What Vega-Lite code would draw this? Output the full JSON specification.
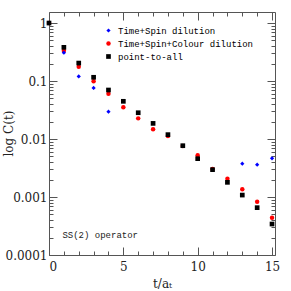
{
  "$schema": "https://vega.github.io/schema/vega-lite/v6.json",
  "width": 226,
  "height": 243,
  "autosize": {"type": "none"},
  "padding": {"left": 49, "top": 12, "right": 16, "bottom": 36},
  "background": "white",
  "config": {
    "view": {"stroke": null},
    "axis": {"grid": false, "domainColor": "#555", "tickColor": "#555", "labelFont": "DejaVu Serif", "labelFontSize": 12, "labelColor": "#222", "titleFont": "DejaVu Serif", "titleFontSize": 12, "titleFontWeight": "normal", "titleColor": "#222"}
  },
  "resolve": {"axis": {"x": "independent", "y": "independent"}},
  "layer": [
    {
      "data": {"values": [
        {"t": 0, "C": 1.0, "series": "Time+Spin+Colour dilution"},
        {"t": 1, "C": 0.333, "series": "Time+Spin+Colour dilution"},
        {"t": 2, "C": 0.177, "series": "Time+Spin+Colour dilution"},
        {"t": 3, "C": 0.0987, "series": "Time+Spin+Colour dilution"},
        {"t": 4, "C": 0.0605, "series": "Time+Spin+Colour dilution"},
        {"t": 5, "C": 0.0352, "series": "Time+Spin+Colour dilution"},
        {"t": 6, "C": 0.0227, "series": "Time+Spin+Colour dilution"},
        {"t": 7, "C": 0.0147, "series": "Time+Spin+Colour dilution"},
        {"t": 8, "C": 0.0113, "series": "Time+Spin+Colour dilution"},
        {"t": 9, "C": 0.0076, "series": "Time+Spin+Colour dilution"},
        {"t": 10, "C": 0.00523, "series": "Time+Spin+Colour dilution"},
        {"t": 11, "C": 0.00304, "series": "Time+Spin+Colour dilution"},
        {"t": 12, "C": 0.00207, "series": "Time+Spin+Colour dilution"},
        {"t": 13, "C": 0.00136, "series": "Time+Spin+Colour dilution"},
        {"t": 14, "C": 0.00083, "series": "Time+Spin+Colour dilution"},
        {"t": 15, "C": 0.00044, "series": "Time+Spin+Colour dilution"},
        {"t": 0, "C": 1.0, "series": "point-to-all"},
        {"t": 1, "C": 0.381, "series": "point-to-all"},
        {"t": 2, "C": 0.204, "series": "point-to-all"},
        {"t": 3, "C": 0.116, "series": "point-to-all"},
        {"t": 4, "C": 0.070, "series": "point-to-all"},
        {"t": 5, "C": 0.0447, "series": "point-to-all"},
        {"t": 6, "C": 0.0284, "series": "point-to-all"},
        {"t": 7, "C": 0.0186, "series": "point-to-all"},
        {"t": 8, "C": 0.0119, "series": "point-to-all"},
        {"t": 9, "C": 0.00767, "series": "point-to-all"},
        {"t": 10, "C": 0.00458, "series": "point-to-all"},
        {"t": 11, "C": 0.00296, "series": "point-to-all"},
        {"t": 12, "C": 0.00179, "series": "point-to-all"},
        {"t": 13, "C": 0.00108, "series": "point-to-all"},
        {"t": 14, "C": 0.000655, "series": "point-to-all"},
        {"t": 15, "C": 0.000342, "series": "point-to-all"},
        {"t": 1, "C": 0.308, "series": "Time+Spin dilution"},
        {"t": 2, "C": 0.120, "series": "Time+Spin dilution"},
        {"t": 3, "C": 0.0759, "series": "Time+Spin dilution"},
        {"t": 4, "C": 0.0296, "series": "Time+Spin dilution"},
        {"t": 13, "C": 0.00376, "series": "Time+Spin dilution"},
        {"t": 14, "C": 0.00361, "series": "Time+Spin dilution"},
        {"t": 15, "C": 0.00465, "series": "Time+Spin dilution"}
      ]},
      "mark": {"type": "point", "filled": true, "opacity": 1},
      "encoding": {
        "x": {"field": "t", "type": "quantitative", "scale": {"domain": [0, 15.2], "nice": false, "zero": false},
          "axis": {"orient": "bottom", "title": "t/aₜ", "values": [0,1,2,3,4,5,6,7,8,9,10,11,12,13,14,15],
            "tickSize": {"condition": {"test": "datum.value % 5 == 0", "value": -8}, "value": -4},
            "labelExpr": "datum.value % 5 == 0 ? datum.label : ''", "labelPadding": 14, "titlePadding": 6}},
        "xOffset": {"field": "series", "type": "nominal", "scale": {"type": "ordinal", "domain": ["Time+Spin dilution", "Time+Spin+Colour dilution", "point-to-all"], "range": [-1.7, 2.2, 0]}},
        "y": {"field": "C", "type": "quantitative", "scale": {"type": "log", "domain": [0.0001, 1.55], "nice": false},
          "axis": {"orient": "left", "title": "log C(t)", "format": "~g", "titleX": -41, "titleY": 121, "titleBaseline": "middle", "titleAlign": "center", "titleAngle": -90,
            "values": [0.0001,0.0002,0.0003,0.0004,0.0005,0.0006,0.0007,0.0008,0.0009,0.001,0.002,0.003,0.004,0.005,0.006,0.007,0.008,0.009,0.01,0.02,0.03,0.04,0.05,0.06,0.07,0.08,0.09,0.1,0.2,0.3,0.4,0.5,0.6,0.7,0.8,0.9,1],
            "tickSize": {"condition": {"test": "abs(log(datum.value)/LN10 - round(log(datum.value)/LN10)) < 0.000001", "value": -8}, "value": -4},
            "labelExpr": "abs(log(datum.value)/LN10 - round(log(datum.value)/LN10)) < 0.000001 ? datum.label : ''", "labelPadding": 10}},
        "color": {"field": "series", "type": "nominal", "scale": {"domain": ["Time+Spin dilution", "Time+Spin+Colour dilution", "point-to-all"], "range": ["#0000ff", "#ff0000", "#000000"]},
          "legend": {"orient": "none", "legendX": 55, "legendY": 14, "title": null, "labelFont": "Liberation Mono", "labelFontSize": 9, "symbolSize": 10, "rowPadding": 3, "labelOffset": 5, "padding": 0,
            "encode": {"labels": {"update": {"fill": {"signal": "scale('color', datum.value)"}}}}}},
        "shape": {"field": "series", "type": "nominal", "scale": {"domain": ["Time+Spin dilution", "Time+Spin+Colour dilution", "point-to-all"], "range": ["diamond", "circle", "square"]}},
        "size": {"field": "series", "type": "nominal", "scale": {"domain": ["Time+Spin dilution", "Time+Spin+Colour dilution", "point-to-all"], "range": [18, 22, 16]}, "legend": null}
      }
    },
    {
      "data": {"values": [{"t": 0.9, "C": 0.00022, "label": "SS(2) operator"}]},
      "mark": {"type": "text", "align": "left", "baseline": "middle", "font": "Liberation Mono", "fontSize": 9, "color": "#222"},
      "encoding": {
        "text": {"field": "label"},
        "x": {"field": "t", "type": "quantitative",
          "axis": {"orient": "top", "title": null, "labels": false, "values": [0,1,2,3,4,5,6,7,8,9,10,11,12,13,14,15],
            "tickSize": {"condition": {"test": "datum.value % 5 == 0", "value": -8}, "value": -4}}},
        "y": {"field": "C", "type": "quantitative",
          "axis": {"orient": "right", "title": null, "labels": false,
            "values": [0.0001,0.0002,0.0003,0.0004,0.0005,0.0006,0.0007,0.0008,0.0009,0.001,0.002,0.003,0.004,0.005,0.006,0.007,0.008,0.009,0.01,0.02,0.03,0.04,0.05,0.06,0.07,0.08,0.09,0.1,0.2,0.3,0.4,0.5,0.6,0.7,0.8,0.9,1],
            "tickSize": {"condition": {"test": "abs(log(datum.value)/LN10 - round(log(datum.value)/LN10)) < 0.000001", "value": -8}, "value": -4}}}
      }
    }
  ]
}
